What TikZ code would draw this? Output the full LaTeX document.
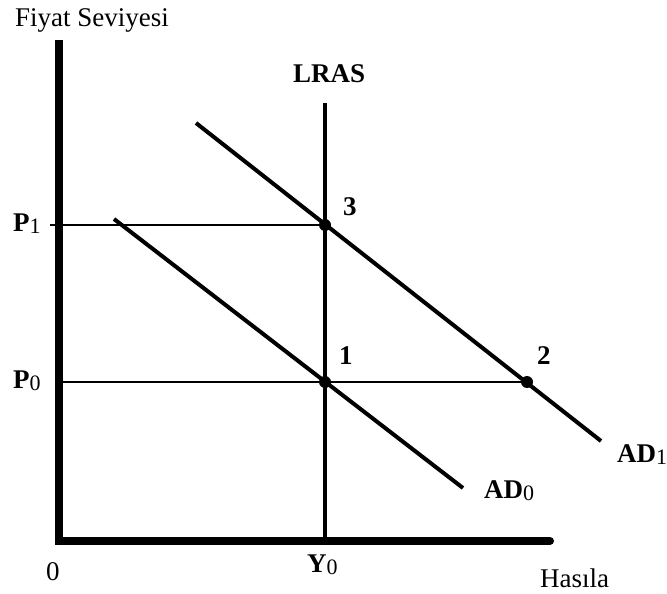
\documentclass[tikz,border=0pt]{standalone}
\usepackage{fontspec}
\setmainfont{Liberation Serif}
\newcommand\sbs[1]{\raisebox{-2pt}{\fontsize{22}{22}\mdseries\selectfont #1}}
\begin{document}
\begin{tikzpicture}[x=1pt,y=-1pt,
  lbl/.style={font=\fontsize{27}{30}\selectfont, inner sep=0pt, anchor=base west},
  blbl/.style={font=\fontsize{27}{30}\selectfont\bfseries, inner sep=0pt, anchor=base west},
  axisline/.style={line width=8pt},
  curve/.style={line width=4pt},
  guide/.style={line width=1.3pt},
  dot/.style={circle, fill=black, inner sep=0pt, minimum size=12pt}]
\useasboundingbox (0,0) rectangle (667,594);
% axes
\coordinate (ytop) at (59,40);
\coordinate (O) at (59,541);
\coordinate (xend) at (550,541);
\draw[axisline] (ytop) -- (59,545);
\draw[axisline, line cap=round] (O) -- (xend);
% LRAS
\coordinate (lrastop) at (325,103);
\coordinate (lrasbot) at (325,541);
\draw[curve] (lrastop) -- (lrasbot);
% points
\node[dot] (p3) at (325,225) {};
\node[dot] (p1) at (325,382) {};
\node[dot] (p2) at (527,382) {};
% guides
\coordinate (g1) at (50,225);
\coordinate (g0) at (59,382);
\draw[guide] (g1) -- (p3.center);
\draw[guide] (g0) -- (p2.center);
% AD curves
\coordinate (ad0a) at (114,219);
\coordinate (ad0b) at (463,488);
\coordinate (ad1a) at (196,123);
\coordinate (ad1b) at (601,441);
\draw[curve] (ad0a) -- (ad0b);
\draw[curve] (ad1a) -- (ad1b);
% labels
\node[lbl] (ylabel) at (15,27) {Fiyat Seviyesi};
\node[blbl] (lras) at (293,83) {LRAS};
\node[blbl] (l3) at (343,215) {3};
\node[blbl] (l1) at (339,364) {1};
\node[blbl] (l2) at (537,364) {2};
\node[blbl] (lp1) at (13,231) {P\sbs{1}};
\node[blbl] (lp0) at (13,388) {P\sbs{0}};
\node[blbl] (lad1) at (617,462) {AD\sbs{1}};
\node[blbl] (lad0) at (484,498) {AD\sbs{0}};
\node[blbl] (ly0) at (307,572) {Y\sbs{0}};
\node[lbl] (zero) at (46,580) {0};
\node[lbl] (xlabel) at (540,587) {Hasıla};
\end{tikzpicture}
\end{document}
